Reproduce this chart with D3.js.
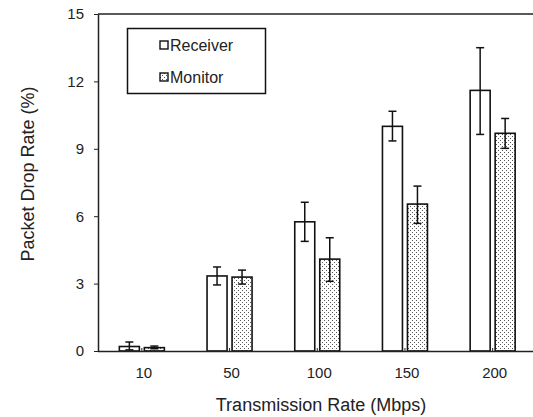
<!DOCTYPE html>
<html>
<head>
<meta charset="utf-8">
<script src="https://cdn.jsdelivr.net/npm/d3@7"></script>
<style>
  body { margin: 0; background: #fff; }
  svg { display: block; font-family: "Liberation Sans", Arial, sans-serif; }
</style>
</head>
<body>
<svg id="chart" width="533" height="417"></svg>
<script>
// data
const rates = ['10', '50', '100', '150', '200'];
const receiver = [0.2, 3.34, 5.75, 10.0, 11.6];
const receiverLo = [0.05, 2.94, 4.88, 9.35, 9.64];
const receiverHi = [0.4, 3.74, 6.62, 10.67, 13.5];
const monitor = [0.15, 3.29, 4.09, 6.54, 9.69];
const monitorLo = [0.1, 2.98, 3.1, 5.68, 9.02];
const monitorHi = [0.22, 3.6, 5.04, 7.34, 10.35];
const yTicks = [0, 3, 6, 9, 12, 15];

const svg = d3.select('#chart');
const margin = { left: 98, top: 14, bottom: 66 };
const height = +svg.attr('height');
const innerHeight = height - margin.top - margin.bottom;

// dotted fill for the monitor bars
const defs = svg.append('defs');
const pat = defs.append('pattern')
  .attr('id', 'dots')
  .attr('patternUnits', 'userSpaceOnUse')
  .attr('width', 4).attr('height', 4);
pat.append('rect').attr('width', 4).attr('height', 4).attr('fill', '#fff');
pat.append('rect').attr('x', 0).attr('y', 0).attr('width', 1).attr('height', 1).attr('fill', '#555');
pat.append('rect').attr('x', 2).attr('y', 2).attr('width', 1).attr('height', 1).attr('fill', '#555');

const xScale = d3.scaleBand()
  .domain(rates)
  .range([margin.left, margin.left + 5 * 87.7]);

const yScale = d3.scaleLinear()
  .domain([0, 15])
  .range([margin.top + innerHeight, margin.top]);

const barW = 20;
const gap = 5;

const series = [
  { key: 'Receiver', vals: receiver, lo: receiverLo, hi: receiverHi, fill: '#fff', off: -gap / 2 - barW },
  { key: 'Monitor', vals: monitor, lo: monitorLo, hi: monitorHi, fill: 'url(#dots)', off: gap / 2 }
];

// frame top line
svg.append('line')
  .attr('x1', margin.left).attr('x2', 533)
  .attr('y1', yScale(15)).attr('y2', yScale(15))
  .attr('stroke', '#222').attr('stroke-width', 1.5);

// bars
series.forEach(s => {
  const g = svg.append('g').attr('class', 'series-' + s.key);
  g.selectAll('rect').data(rates).join('rect')
    .attr('x', (d) => xScale(d) + xScale.bandwidth() / 2 + s.off)
    .attr('y', (d, i) => yScale(s.vals[i]))
    .attr('width', barW)
    .attr('height', (d, i) => yScale(0) - yScale(s.vals[i]))
    .attr('fill', s.fill)
    .attr('stroke', '#111')
    .attr('stroke-width', 1.6);

  // error bars
  const cx = d => xScale(d) + xScale.bandwidth() / 2 + s.off + barW / 2;
  const eb = g.selectAll('.err').data(rates).join('g').attr('class', 'err')
    .attr('stroke', '#111').attr('stroke-width', 1.5);
  eb.append('line')
    .attr('x1', cx).attr('x2', cx)
    .attr('y1', (d, i) => yScale(s.lo[i])).attr('y2', (d, i) => yScale(s.hi[i]));
  eb.append('line')
    .attr('x1', d => cx(d) - 4).attr('x2', d => cx(d) + 4)
    .attr('y1', (d, i) => yScale(s.lo[i])).attr('y2', (d, i) => yScale(s.lo[i]));
  eb.append('line')
    .attr('x1', d => cx(d) - 4).attr('x2', d => cx(d) + 4)
    .attr('y1', (d, i) => yScale(s.hi[i])).attr('y2', (d, i) => yScale(s.hi[i]));
});

// axes
const xAxis = d3.axisBottom(xScale).tickSizeInner(-3).tickSizeOuter(0).tickPadding(16);
const xAxisG = svg.append('g')
  .attr('transform', `translate(0,${yScale(0)})`)
  .call(xAxis)
  .attr('font-family', null).attr('font-size', 15);
xAxisG.select('.domain').attr('stroke', '#222').attr('stroke-width', 1.5)
  .attr('d', `M${margin.left},0.5H533`);
xAxisG.selectAll('.tick line').attr('stroke', '#222');
xAxisG.selectAll('.tick text')
  .attr('fill', '#222')
  .attr('dx', 2);

const yAxis = d3.axisLeft(yScale).tickValues(yTicks).tickSizeInner(4).tickSizeOuter(0).tickPadding(10);
const yAxisG = svg.append('g')
  .attr('transform', `translate(${margin.left},0)`)
  .call(yAxis)
  .attr('font-family', null).attr('font-size', 15);
yAxisG.select('.domain').attr('stroke', '#222').attr('stroke-width', 1.5);
yAxisG.selectAll('.tick line').attr('stroke', '#222');
yAxisG.selectAll('.tick text').attr('fill', '#222');

// axis titles
svg.append('text')
  .attr('x', 321).attr('y', 411)
  .attr('text-anchor', 'middle')
  .attr('font-size', 18).attr('fill', '#222')
  .text('Transmission Rate (Mbps)');

svg.append('text')
  .attr('transform', 'translate(34,174) rotate(-90)')
  .attr('text-anchor', 'middle')
  .attr('font-size', 18).attr('fill', '#222')
  .text('Packet Drop Rate (%)');

// legend
const legend = svg.append('g').attr('class', 'legend');
legend.append('rect')
  .attr('x', 127.5).attr('y', 28.5).attr('width', 138).attr('height', 65)
  .attr('fill', '#fff').attr('stroke', '#111').attr('stroke-width', 1.5);
const items = legend.selectAll('.item').data(series).join('g')
  .attr('class', 'item')
  .attr('transform', (d, i) => `translate(160,${45 + i * 32})`);
items.append('rect')
  .attr('x', 0).attr('y', -4).attr('width', 8).attr('height', 8)
  .attr('fill', d => d.fill).attr('stroke', '#111').attr('stroke-width', 1.4);
items.append('text')
  .attr('x', 10).attr('y', 6)
  .attr('font-size', 16).attr('fill', '#222')
  .text(d => d.key);
</script>
</body>
</html>
